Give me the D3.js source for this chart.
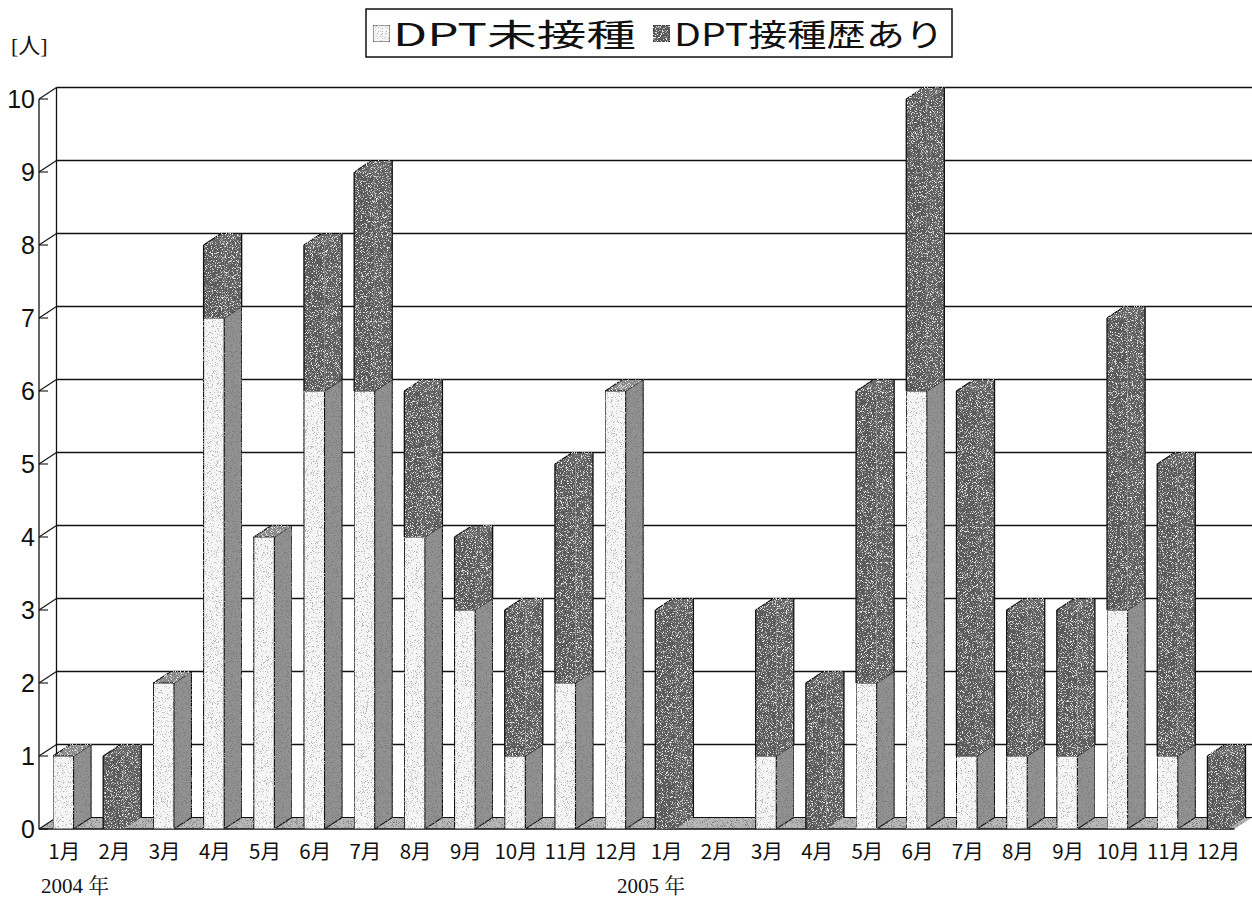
<!DOCTYPE html>
<html>
<head>
<meta charset="utf-8">
<script src="https://cdn.jsdelivr.net/npm/d3@7"></script>
<style>
  html, body { margin: 0; padding: 0; background: #fff; }
  svg { display: block; }
</style>
</head>
<body>
<svg id="chart" width="1252" height="900"></svg>
<script>
// Monthly cases, Jan 2004 – Dec 2005
const months = ["1月","2月","3月","4月","5月","6月","7月","8月","9月","10月","11月","12月",
                "1月","2月","3月","4月","5月","6月","7月","8月","9月","10月","11月","12月"];
const unvaccinated = [1,0,2,7,4,6,6,4,3,1,2,6, 0,0,1,0,2,6,1,1,1,3,1,0];   // DPT未接種
const vaccinated   = [0,1,0,1,0,2,3,2,1,2,3,0, 3,0,2,2,4,4,5,2,2,4,4,1];   // DPT接種歴あり
const seriesNames = ["DPT未接種", "DPT接種歴あり"];
const yTicks = [0,1,2,3,4,5,6,7,8,9,10];
const yearLabels = ["2004 年", "2005 年"];
const unitLabel = "[人]";

const svg = d3.select("#chart");

// 3D depth offset of the plot box
const DX = 17.5, DY = -11.5;

const x = d3.scaleBand()
  .domain(d3.range(months.length))
  .range([53, 1228])
  .paddingInner(0.59)
  .paddingOuter(0);
const bw = x.bandwidth();

const y = d3.scaleLinear().domain([0, 10]).range([829, 99]);

const axisX = 39;          // front edge of the left wall
const rightX = 1252;

// ---- speckled textures for the printed fills ----
const defs = svg.append("defs");
function grain(id, slope, offset, color, seed) {
  const f = defs.append("filter").attr("id", id)
    .attr("x", 0).attr("y", 0).attr("width", "100%").attr("height", "100%");
  f.append("feTurbulence").attr("type", "fractalNoise")
    .attr("baseFrequency", 1.2).attr("numOctaves", 2).attr("seed", seed).attr("result", "noise");
  f.append("feColorMatrix").attr("in", "noise").attr("type", "matrix")
    .attr("values", `0 0 0 0 ${color}  0 0 0 0 ${color}  0 0 0 0 ${color}  ${slope} 0 0 0 ${offset}`)
    .attr("result", "specks");
  f.append("feComposite").attr("in", "specks").attr("in2", "SourceGraphic")
    .attr("operator", "in").attr("result", "dots");
  const m = f.append("feMerge");
  m.append("feMergeNode").attr("in", "SourceGraphic");
  m.append("feMergeNode").attr("in", "dots");
}
grain("speckLight", 7, -4.0, 0.45, 3);   // sparse grey specks on pale faces
grain("speckMid", 6, -3.2, 0.2, 5);      // darker specks on mid-grey faces
grain("speckDark", 6, -3.3, 0.85, 9);    // pale specks on dark faces

// ---- walls, floor and gridlines ----
const walls = svg.append("g");

// floor
walls.append("path")
  .attr("d", `M${axisX},${y(0)} L${axisX + DX},${y(0) + DY} L${rightX},${y(0) + DY} L${rightX - DX},${y(0)} Z`)
  .attr("fill", "#b8b8b8").attr("filter", "url(#speckMid)");

// back-wall gridlines
walls.selectAll("line.grid").data(yTicks.filter(d => d > 0)).join("line")
  .attr("class", "grid")
  .attr("x1", axisX + DX).attr("x2", rightX)
  .attr("y1", d => y(d) + DY).attr("y2", d => y(d) + DY)
  .attr("stroke", "#111").attr("stroke-width", 1.3);

// left-wall gridlines (diagonals) and tick marks
walls.selectAll("line.lw").data(yTicks).join("line")
  .attr("class", "lw")
  .attr("x1", axisX).attr("y1", d => y(d))
  .attr("x2", axisX + DX).attr("y2", d => y(d) + DY)
  .attr("stroke", "#111").attr("stroke-width", 1.1);
walls.selectAll("line.tk").data(yTicks).join("line")
  .attr("class", "tk")
  .attr("x1", axisX).attr("y1", d => y(d))
  .attr("x2", axisX + 9).attr("y2", d => y(d))
  .attr("stroke", "#111").attr("stroke-width", 1.1);

// wall edges
walls.append("line").attr("x1", axisX).attr("x2", axisX)
  .attr("y1", y(0)).attr("y2", y(10)).attr("stroke", "#111").attr("stroke-width", 1.3);
walls.append("line").attr("x1", axisX + DX).attr("x2", axisX + DX)
  .attr("y1", y(0) + DY).attr("y2", y(10) + DY).attr("stroke", "#111").attr("stroke-width", 1.3);
walls.append("line").attr("x1", axisX).attr("x2", rightX - DX)
  .attr("y1", y(0)).attr("y2", y(0)).attr("stroke", "#111").attr("stroke-width", 1.6);
walls.append("line").attr("x1", axisX + DX).attr("x2", rightX)
  .attr("y1", y(0) + DY).attr("y2", y(0) + DY).attr("stroke", "#111").attr("stroke-width", 1);

// ---- stacked 3D bars ----
const stackData = months.map((m, i) => ({ i, un: unvaccinated[i], va: vaccinated[i] }));
const stack = d3.stack().keys(["un", "va"])(stackData);

const faces = {
  un: { front: "#f6f6f6", side: "#929292", top: "#8a8a8a", ff: "speckLight", sf: "speckMid" },
  va: { front: "#5a5a5a", side: "#5e5e5e", top: "#666666", ff: "speckDark", sf: "speckDark" }
};

const bars = svg.append("g").attr("stroke-linejoin", "round");
const ink = "#111";

stack.forEach(layer => {
  const key = layer.key;
  const g = bars.append("g");
  layer.forEach(seg => {
    const [v0, v1] = seg;
    if (v1 <= v0) return;
    const xl = x(seg.data.i), xr = xl + bw;
    const yb = y(v0), yt = y(v1);
    const isTop = v1 === seg.data.un + seg.data.va;
    const sideD = `M${xr},${yb} L${xr},${yt} L${xr + DX},${yt + DY} L${xr + DX},${yb + DY} Z`;
    if (key === "un") {
      g.append("path").attr("d", sideD)
        .attr("fill", faces.un.side).attr("filter", `url(#${faces.un.sf})`)
        .attr("stroke", ink).attr("stroke-width", 1.1);
      g.append("rect").attr("x", xl).attr("y", yt).attr("width", bw).attr("height", yb - yt)
        .attr("fill", faces.un.front).attr("filter", `url(#${faces.un.ff})`)
        .attr("stroke", ink).attr("stroke-width", 1.1);
    } else {
      // dark segment: front and side read as one block, outlined only on its silhouette
      g.append("rect").attr("x", xl).attr("y", yt).attr("width", bw).attr("height", yb - yt)
        .attr("fill", faces.va.front).attr("filter", `url(#${faces.va.ff})`);
      g.append("path").attr("d", sideD)
        .attr("fill", faces.va.side).attr("filter", `url(#${faces.va.sf})`);
      g.append("path")
        .attr("d", `M${xl},${yb} L${xl},${yt} ${isTop ? "" : `L${xr},${yt} `}` +
                   `M${xr + DX},${yt + DY} L${xr + DX},${yb + DY}`)
        .attr("fill", "none").attr("stroke", ink).attr("stroke-width", 1.3);
    }
  });
});

// top faces of each stack
bars.append("g").selectAll("path").data(stackData.filter(d => d.un + d.va > 0)).join("path")
  .attr("d", d => {
    const xl = x(d.i), xr = xl + bw, yt = y(d.un + d.va);
    return `M${xr},${yt} L${xl},${yt} L${xl + DX},${yt + DY} L${xr + DX},${yt + DY}`;
  })
  .attr("fill", d => d.va > 0 ? faces.va.top : faces.un.top)
  .attr("filter", "url(#speckDark)")
  .attr("stroke", ink).attr("stroke-width", d => d.va > 0 ? 1.1 : 1.1)
  .attr("stroke-dasharray", d => d.va > 0 ? `0 ${bw} 1000` : null);

// ---- axis labels ----
svg.append("g").selectAll("text").data(yTicks).join("text")
  .attr("x", 35).attr("y", d => y(d) + 9)
  .attr("text-anchor", "end")
  .attr("font-family", "'Liberation Sans Narrow', 'Liberation Sans', Arial, sans-serif")
  .attr("font-size", 25)
  .attr("fill", "#111")
  .text(d => d);

svg.append("g").selectAll("text").data(months).join("text")
  .attr("x", (d, i) => x(i) + bw / 2 + 1)
  .attr("y", 859)
  .attr("text-anchor", "middle")
  .attr("font-family", "'Noto Sans CJK JP', sans-serif")
  .attr("font-size", 20.5)
  .attr("fill", "#111")
  .text(d => d);

svg.append("g").selectAll("text").data(yearLabels).join("text")
  .attr("x", (d, i) => i === 0 ? 41 : 617)
  .attr("y", 893)
  .attr("font-family", "'Liberation Serif', 'Noto Serif CJK JP', serif")
  .attr("font-size", 21)
  .attr("fill", "#111")
  .text(d => d);

svg.append("text")
  .attr("x", 11).attr("y", 53)
  .attr("font-family", "'Liberation Serif', 'Noto Sans CJK JP', serif")
  .attr("font-size", 22)
  .attr("fill", "#111")
  .text(unitLabel);

// ---- legend ----
const legend = svg.append("g");
legend.append("rect").attr("x", 366).attr("y", 9).attr("width", 586).attr("height", 48)
  .attr("fill", "#fff").attr("stroke", "#111").attr("stroke-width", 1.5);
const legendItems = [
  { name: seriesNames[0], fill: faces.un.front, f: "speckLight", sx: 373, tx: 393, tw: 243 },
  { name: seriesNames[1], fill: faces.va.front, f: "speckDark", sx: 653, tx: 674, tw: 270 }
];
legendItems.forEach(it => {
  legend.append("rect").attr("x", it.sx).attr("y", 25).attr("width", 17).attr("height", 17)
    .attr("fill", it.fill).attr("stroke", "#333").attr("stroke-width", 1)
    .attr("filter", `url(#${it.f})`);
  legend.append("text").attr("x", it.tx).attr("y", 46)
    .attr("font-family", "'Noto Sans CJK JP', sans-serif")
    .attr("font-size", 31).attr("font-weight", 400)
    .attr("textLength", it.tw).attr("lengthAdjust", "spacingAndGlyphs")
    .attr("fill", "#111")
    .text(it.name);
});
</script>
</body>
</html>
